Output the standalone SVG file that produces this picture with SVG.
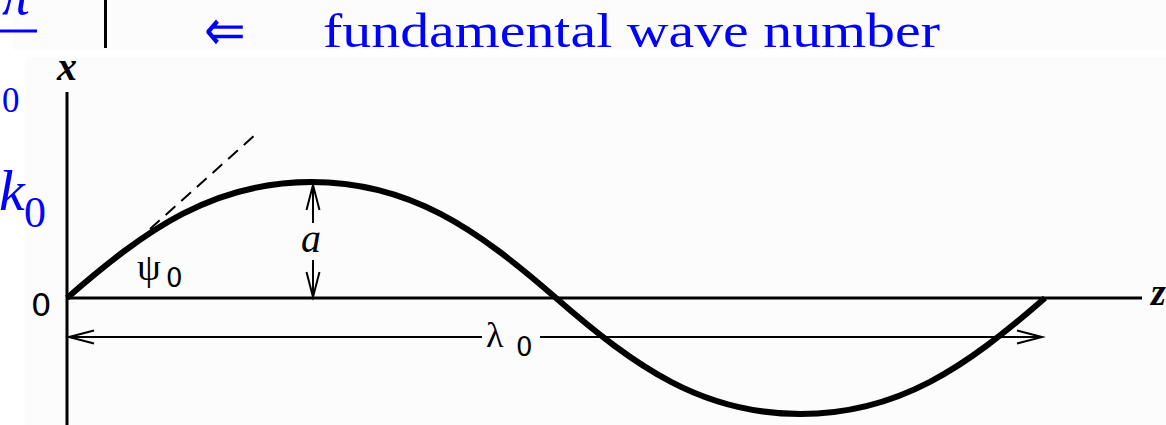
<svg xmlns="http://www.w3.org/2000/svg" width="1166" height="425" viewBox="0 0 1166 425">
  <defs>
    <marker id="vhead" markerUnits="userSpaceOnUse" markerWidth="30" markerHeight="20" refX="0" refY="0" viewBox="-27 -10 30 20" orient="auto" overflow="visible">
      <path d="M-25,-6.5 L0,0 L-25,6.5" fill="none" stroke="#000" stroke-width="2"/>
    </marker>
    <style>
      .blue { fill: #0000ff; font-family: "Liberation Serif", serif; }
      .mathi { fill: #000; font-family: "Liberation Serif", serif; font-style: italic; }
      .sans { fill: #000; font-family: "DejaVu Sans", sans-serif; }
      .thin { stroke: #000; stroke-width: 2; fill: none; }
      .axis { stroke: #000; stroke-width: 3; fill: none; }
    </style>
  </defs>
  <rect width="1166" height="425" fill="#ffffff"/>
  <rect x="13" y="0" width="1153" height="50" fill="#fcfcfc"/>
  <rect x="25" y="57" width="1141" height="368" fill="#fcfcfc"/>

  <g id="header">
    <text class="blue" x="2" y="14" font-size="56" font-style="italic">π</text>
    <line x1="0" y1="31" x2="37" y2="31" stroke="#0000ff" stroke-width="3"/>
    <line x1="105.5" y1="0" x2="105.5" y2="48" stroke="#000" stroke-width="3"/>
    <text class="blue" x="204" y="50" font-size="58" textLength="42" lengthAdjust="spacingAndGlyphs">⇐</text>
    <text class="blue" x="323" y="47" font-size="48" textLength="617" lengthAdjust="spacingAndGlyphs">fundamental wave number</text>
    <text class="blue" x="2" y="112" font-size="35">0</text>
    <text class="blue" x="-1" y="210" font-size="58" font-style="italic">k</text>
    <text class="blue" x="24" y="227" font-size="44">0</text>
  </g>

  <g id="axes">
    <line class="axis" x1="67" y1="92" x2="67" y2="425"/>
    <line class="axis" x1="66" y1="298" x2="1142" y2="298"/>
    <text class="mathi" x="57" y="80" font-size="40" font-weight="bold">x</text>
    <text class="mathi" x="1151" y="305" font-size="38" font-weight="bold">z</text>
    <text class="sans" x="31" y="316" font-size="32">0</text>
  </g>

  <g id="wave">
    <path d="M67,298 C146.8,228.4 213.7,182 311.5,182 S476.2,228.4 556,298 S702.7,414 800.5,414 S965.2,367.6 1045,298" fill="none" stroke="#000" stroke-width="6"/>
    <line x1="150" y1="229" x2="256" y2="134" stroke="#000" stroke-width="2" stroke-dasharray="13,8"/>
    <text x="137" y="280" font-size="38" font-family="Liberation Serif, serif" fill="#000">ψ</text>
    <text class="sans" x="166" y="287" font-size="26">0</text>
  </g>

  <g id="connectors">
    <line class="thin" x1="313" y1="223" x2="313" y2="185" marker-end="url(#vhead)"/>
    <line class="thin" x1="313" y1="260" x2="313" y2="297" marker-end="url(#vhead)"/>
    <line class="thin" x1="482" y1="337" x2="69" y2="337" marker-end="url(#vhead)"/>
    <line class="thin" x1="540" y1="337" x2="1042" y2="337" marker-end="url(#vhead)"/>
  </g>

  <g id="labels">
    <text class="mathi" x="301" y="252" font-size="40">a</text>
    <text x="486" y="347" font-size="36" font-family="Liberation Serif, serif" fill="#000">λ</text>
    <text class="sans" x="516" y="356" font-size="26">0</text>
  </g>
</svg>
